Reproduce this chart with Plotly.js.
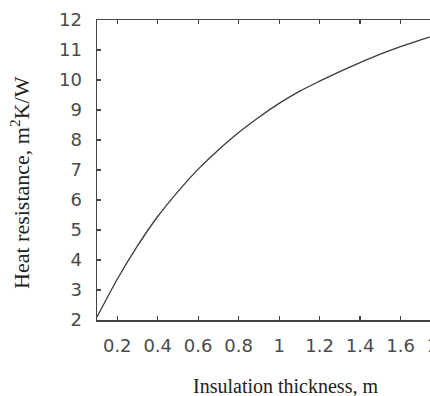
<!DOCTYPE html>
<html>
<head>
<meta charset="utf-8">
<script src="https://cdn.plot.ly/plotly-3.0.1.min.js"></script>
<style>
html,body{margin:0;padding:0;background:#fff;overflow:hidden;width:430px;height:396px;}
#chart{width:470px;height:396px;}
</style>
</head>
<body>
<div id="chart"></div>
<script>
var thickness = [0.1, 0.2, 0.3, 0.4, 0.5, 0.6, 0.7, 0.8, 0.9, 1.0, 1.1, 1.2, 1.3, 1.4, 1.5, 1.6, 1.7, 1.8];
var resistance = [2.1, 3.36, 4.47, 5.45, 6.28, 7.03, 7.67, 8.25, 8.76, 9.22, 9.62, 9.96, 10.28, 10.58, 10.86, 11.11, 11.34, 11.55];
var xTicks = [0.2, 0.4, 0.6, 0.8, 1, 1.2, 1.4, 1.6, 1.8];
var xTickText = ["0.2", "0.4", "0.6", "0.8", "1", "1.2", "1.4", "1.6", "1.8"];
var yTicks = [2, 3, 4, 5, 6, 7, 8, 9, 10, 11, 12];
var xTitle = "Insulation thickness, m";
var yTitle = "Heat resistance, m<sup>2</sup>K/W";

var trace = {
  x: thickness, y: resistance, type: 'scatter', mode: 'lines',
  line: {color: '#3a3a3a', width: 1.3, shape: 'spline', smoothing: 0.8},
  hoverinfo: 'skip'
};

var axisCommon = {
  showgrid: false, zeroline: false,
  showline: true, linecolor: '#444444', linewidth: 1.5,
  ticks: 'inside', ticklen: 4, tickwidth: 1.2, tickcolor: '#444444',
  mirror: 'ticks',
  tickfont: {family: 'DejaVu Sans', size: 18, color: '#4a4a4a'}
};

var layout = {
  width: 470, height: 396,
  margin: {l: 97, r: 29, t: 20, b: 76},
  paper_bgcolor: '#ffffff', plot_bgcolor: '#ffffff',
  showlegend: false,
  xaxis: Object.assign({}, axisCommon, {
    range: [0.1, 1.8], tickmode: 'array', tickvals: xTicks, ticktext: xTickText,
    ticklabelstandoff: 9
  }),
  yaxis: Object.assign({}, axisCommon, {
    range: [2, 12], tickmode: 'array', tickvals: yTicks,
    ticklabelstandoff: 10
  }),
  annotations: [
    {text: xTitle, xref: 'paper', yref: 'paper', x: 0.549, y: -0.22,
     xanchor: 'center', yanchor: 'middle', showarrow: false,
     font: {family: 'Liberation Serif', size: 20, color: '#222222'}},
    {text: yTitle, xref: 'paper', yref: 'paper', x: -0.224, y: 0.46,
     xanchor: 'center', yanchor: 'middle', showarrow: false, textangle: -90,
     font: {family: 'Liberation Serif', size: 22, color: '#222222'}}
  ]
};

Plotly.newPlot('chart', [trace], layout, {staticPlot: true, displayModeBar: false});
</script>
</body>
</html>
